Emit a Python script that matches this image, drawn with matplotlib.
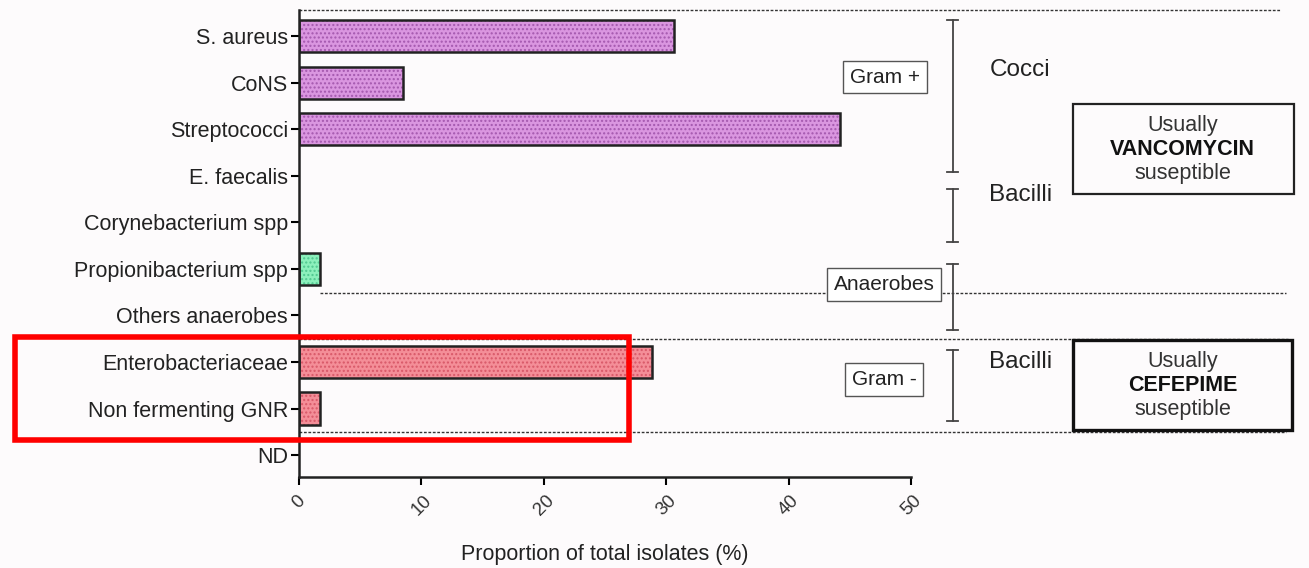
import matplotlib
matplotlib.use("Agg")
import matplotlib.pyplot as plt
from matplotlib.patches import Rectangle
import numpy as np

plt.rcParams['font.family'] = ['Liberation Sans', 'DejaVu Sans']

categories = ["S. aureus", "CoNS", "Streptococci", "E. faecalis", "Corynebacterium spp",
              "Propionibacterium spp", "Others anaerobes", "Enterobacteriaceae",
              "Non fermenting GNR", "ND"]
values = [30.6, 8.5, 44.2, 0, 0, 1.7, 0, 28.8, 1.7, 0]
groups = ["pos", "pos", "pos", "pos", "pos", "anaer", "anaer", "neg", "neg", "neg"]
xticks = [0, 10, 20, 30, 40, 50]
xlabel = "Proportion of total isolates (%)"

face = {"pos": "#da96e0", "anaer": "#8cf0bc", "neg": "#f48e98"}
dots = {"pos": "#a458ae", "anaer": "#50c890", "neg": "#d85868"}

fig = plt.figure(figsize=(13.09, 5.68), dpi=100)
fig.patch.set_facecolor("#fdfbfc")
ax = fig.add_axes([299/1309, 1-477/568, 612/1309, 467/568])
ax.set_facecolor("#fdfbfc")

y = np.arange(len(categories))
for i, (v, g) in enumerate(zip(values, groups)):
    if v <= 0:
        continue
    ax.barh(y[i], v, height=0.69, color=face[g], edgecolor=dots[g], hatch="....",
            linewidth=0, zorder=2)
    ax.barh(y[i], v, height=0.69, fill=False, edgecolor="#222222", linewidth=1.8, zorder=3)

ax.set_xlim(0, 50)
ax.set_ylim(9.47, -0.56)
ax.set_yticks(y)
ax.set_yticklabels(categories, fontsize=15.5, color="#222222")
ax.set_xticks(xticks)
ax.set_xticklabels([str(t) for t in xticks], rotation=45, fontsize=13.5, color="#333333",
                   ha="center", va="top")
ax.tick_params(axis="y", length=6, width=1.5, pad=2)
ax.tick_params(axis="x", length=6, width=1.5, pad=5)
for s in ["top", "right"]:
    ax.spines[s].set_visible(False)
for s in ["left", "bottom"]:
    ax.spines[s].set_linewidth(1.8)
    ax.spines[s].set_color("#222222")
ax.set_xlabel(xlabel, fontsize=15.5, color="#222222", labelpad=18)

# dashed separators
dkw = dict(color="#333333", linestyle=(0, (2.0, 1.2)), linewidth=1.0, clip_on=False, zorder=1)
ax.plot([0, 80.2], [-0.56, -0.56], **dkw)
ax.plot([1.7, 80.6], [5.52, 5.52], **dkw)
ax.plot([0, 80.8], [6.51, 6.51], **dkw)
ax.plot([0, 80.6], [8.51, 8.51], **dkw)

# brackets
bx = 53.4
def bracket(y0, y1):
    ax.plot([bx, bx], [y0, y1], color="#444444", lw=1.3, clip_on=False)
    for yy in (y0, y1):
        ax.plot([bx - 0.45, bx + 0.45], [yy, yy], color="#444444", lw=1.3, clip_on=False)

bracket(-0.34, 2.92)
bracket(3.29, 4.43)
bracket(4.90, 6.32)
bracket(6.75, 8.27)

tkw = dict(fontsize=17.5, color="#222222", ha="left", va="center", clip_on=False)
ax.text(56.4, 0.73, "Cocci", **tkw)
ax.text(56.4, 3.42, "Bacilli", **tkw)
ax.text(56.4, 7.0, "Bacilli", **tkw)

bkw = dict(fontsize=15, color="#222222", ha="center", va="center",
           bbox=dict(boxstyle="square,pad=0.33", fc="white", ec="#555555", lw=1.0))
ax.text(47.9, 0.88, "Gram +", **bkw)
ax.text(47.8, 5.33, "Anaerobes", **bkw)
ax.text(47.8, 7.37, "Gram -", **bkw)

# susceptibility boxes
ax.add_patch(Rectangle((63.2, 1.46), 18.1, 1.93, fill=False, ec="#222222", lw=1.6,
                       clip_on=False))
ax.add_patch(Rectangle((63.2, 6.53), 17.9, 1.93, fill=False, ec="#111111", lw=2.4,
                       clip_on=False))
ckw = dict(fontsize=15.5, color="#333333", ha="center", va="center", clip_on=False)
ax.text(72.2, 1.91, "Usually", **ckw)
ax.text(72.2, 2.43, "VANCOMYCIN", fontweight="bold", **{**ckw, "color": "#111111"})
ax.text(72.2, 2.96, "suseptible", **ckw)
ax.text(72.2, 6.98, "Usually", **ckw)
ax.text(72.2, 7.50, "CEFEPIME", fontweight="bold", **{**ckw, "color": "#111111"})
ax.text(72.2, 8.03, "suseptible", **ckw)

# red highlight box
ax.add_patch(Rectangle((-23.2, 6.47), 50.2, 2.21, fill=False, ec="#ff0000", lw=4,
                       clip_on=False, zorder=5))

fig.savefig("out.png", dpi=100, facecolor=fig.get_facecolor())
